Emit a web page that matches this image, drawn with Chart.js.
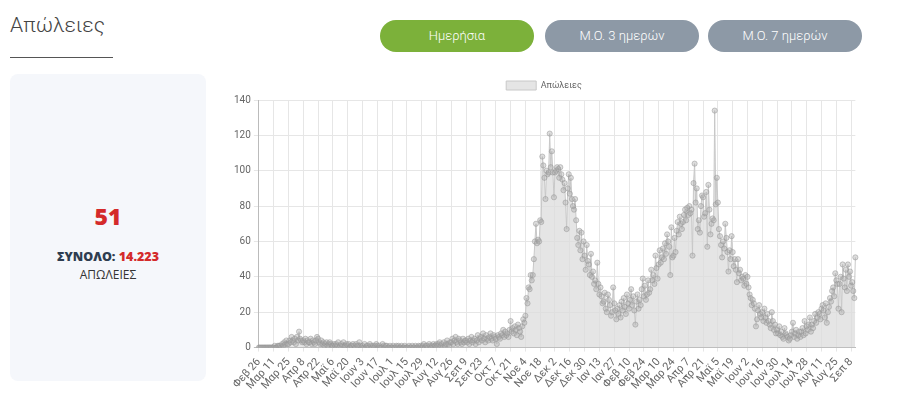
<!DOCTYPE html>
<html lang="el">
<head>
<meta charset="utf-8">
<script src="https://cdn.jsdelivr.net/npm/chart.js@4.4.1/dist/chart.umd.min.js"></script>
<style>
  body { margin: 0; background: #fff; font-family: Roboto, sans-serif; width: 900px; height: 403px; position: relative; overflow: hidden; }
  .titlos { position: absolute; left: 10px; top: 13px; font-size: 21px; font-weight: 300; color: #444; }
  .grammi { position: absolute; left: 10px; top: 57px; width: 103px; height: 1px; background: #555; }
  .koumpi { position: absolute; top: 20px; height: 32px; width: 154px; border-radius: 16px; color: #fff; font-size: 13px; font-weight: 300; text-align: center; line-height: 32px; }
  .karta { position: absolute; left: 10px; top: 74px; width: 196px; height: 307px; background: #f5f7fb; border-radius: 8px; text-align: center; font-family: "Open Sans", sans-serif; }
  .arithmos { position: absolute; left: 0; right: 0; top: 126px; font-size: 23px; font-weight: 800; color: #d42a2a; }
  .synolo { position: absolute; left: 0; right: 0; top: 174px; font-size: 12.5px; font-weight: 800; color: #2e3d50; }
  .synolo span { color: #d42a2a; }
  .etiketa { position: absolute; left: 0; right: 0; top: 192px; font-size: 12px; color: #333; }
  #perioxi { position: absolute; left: 220px; top: 71px; width: 645px; height: 325px; }
</style>
</head>
<body>
<div class="titlos">Απώλειες</div>
<div class="grammi"></div>
<div class="koumpi" style="left:380px; background:#7cb13a;">Ημερήσια</div>
<div class="koumpi" style="left:545px; background:#8d99a6;">Μ.Ο. 3 ημερών</div>
<div class="koumpi" style="left:708px; background:#8d99a6;">Μ.Ο. 7 ημερών</div>

<div class="karta">
  <div class="arithmos">51</div>
  <div class="synolo">ΣΥΝΟΛΟ: <span>14.223</span></div>
  <div class="etiketa">ΑΠΩΛΕΙΕΣ</div>
</div>

<div id="perioxi"><canvas id="grafima"></canvas></div>

<script>
// ημερήσιες απώλειες από 26 Φεβ 2020
const apoleies = [
  0,0,0,0,0,0,0,0,0,0,0,0,0,0,
  0,1,0,0,1,1,1,0,2,1,3,2,4,2,
  2,4,3,6,4,3,5,2,6,4,9,5,4,3,
  4,3,5,2,4,3,3,5,2,4,3,2,4,6,
  5,3,2,4,2,3,1,2,3,1,2,3,2,1,
  1,2,1,2,1,3,0,1,2,1,3,1,1,2,
  1,2,0,1,1,2,1,0,2,1,1,3,1,0,
  1,0,2,0,1,1,0,2,1,0,1,0,1,2,
  1,0,1,0,0,2,1,0,1,1,0,0,1,0,
  0,1,0,0,1,0,1,0,0,1,0,0,1,0,
  0,0,1,0,0,1,0,0,1,0,0,1,0,1,
  0,1,2,0,1,1,0,2,1,0,1,2,1,1,
  2,1,2,3,1,2,0,3,1,2,4,2,1,3,
  3,5,2,4,6,3,2,5,4,3,2,5,3,4,
  4,3,5,2,4,6,3,4,5,2,4,7,3,5,
  6,4,8,5,3,7,5,4,6,8,5,4,7,6,
  5,2,7,6,5,8,7,10,6,9,7,8,6,10,
  15,9,11,8,12,10,7,13,11,9,6,12,16,14,
  18,28,25,34,33,41,38,41,50,60,70,59,61,60,
  72,71,108,103,96,84,100,98,99,121,102,111,99,85,
  99,100,102,101,96,102,98,95,89,93,82,67,90,98,
  87,96,84,80,78,84,72,62,58,66,55,65,50,60,
  52,44,58,49,47,41,53,40,43,36,38,33,48,36,
  30,34,29,25,26,31,22,20,30,27,24,18,20,34,
  25,21,16,22,19,24,17,26,21,28,23,19,30,25,
  22,27,33,24,29,21,13,26,30,22,27,24,33,39,
  29,35,27,30,38,31,33,44,38,41,36,52,45,39,
  47,55,48,51,56,50,59,53,64,60,57,41,68,51,
  52,62,54,66,71,64,74,70,67,71,75,78,72,79,
  75,80,76,78,52,93,104,82,90,67,72,65,80,86,
  85,74,76,88,57,92,78,64,70,73,72,134,81,96,
  82,67,63,58,51,60,56,70,62,54,43,55,50,63,
  54,46,50,44,37,50,42,44,38,40,39,35,41,36,
  40,34,30,28,24,27,25,22,12,16,21,24,19,17,
  20,15,22,17,14,19,15,13,11,20,15,10,13,8,
  10,8,12,7,9,6,5,11,8,7,6,4,5,7,
  9,14,6,8,10,5,7,9,6,9,11,7,15,8,
  12,10,13,17,9,13,11,15,19,14,17,20,19,16,
  22,24,21,17,25,14,20,23,28,26,32,34,29,42,
  38,36,22,36,40,20,47,39,34,44,32,47,40,43,
  35,37,32,28,51
];

const mines = ['Ιαν','Φεβ','Μαρ','Απρ','Μαϊ','Ιουν','Ιουλ','Αυγ','Σεπ','Οκτ','Νοε','Δεκ'];
const enarxi = [2020, 1, 26]; // έτος, μήνας (0-11), ημέρα
const vimaEtiketas = 14; // μία ετικέτα κάθε 2 εβδομάδες

// ετικέτες ημερομηνιών
const imerominies = [];
for (let i = 0; i < apoleies.length; i++) {
  const d = new Date(Date.UTC(enarxi[0], enarxi[1], enarxi[2] + i));
  imerominies.push(mines[d.getUTCMonth()] + ' ' + d.getUTCDate());
}

const ctx = document.getElementById('grafima').getContext('2d');

const dedomena = {
  labels: imerominies,
  datasets: [{
    label: 'Απώλειες',
    data: apoleies,
    fill: 'origin',
    backgroundColor: 'rgba(220,220,220,0.75)',
    borderColor: 'rgba(200,200,200,1)',
    borderWidth: 1,
    tension: 0,
    pointRadius: 2.6,
    pointBorderWidth: 1,
    pointBackgroundColor: 'rgba(170,170,170,0.4)',
    pointBorderColor: 'rgba(150,150,150,0.5)'
  }]
};

const epiloges = {
  responsive: true,
  maintainAspectRatio: false,
  animation: false,
  layout: { padding: { left: 11, right: 8, top: 0, bottom: 0 } },
  plugins: {
    legend: {
      display: true,
      labels: {
        boxWidth: 30,
        boxHeight: 9,
        color: '#666',
        font: { size: 9, family: 'Roboto' }
      }
    },
    tooltip: { enabled: false }
  },
  scales: {
    x: {
      grid: {
        color: '#e6e6e6',
        tickLength: 4
      },
      border: { color: '#bbb' },
      ticks: {
        autoSkip: false,
        minRotation: 48,
        maxRotation: 48,
        color: '#666',
        padding: 4,
        font: { size: 11, family: 'Roboto' },
        callback: function (val, idx) {
          return idx % vimaEtiketas === 0 ? this.getLabelForValue(val) : null;
        }
      }
    },
    y: {
      min: 0,
      max: 140,
      grid: {
        color: function (c) { return c.tick.value === 0 ? '#bdbdbd' : '#e6e6e6'; },
        tickLength: 5
      },
      border: { color: '#bbb' },
      ticks: {
        stepSize: 20,
        color: '#666',
        padding: 3,
        font: { size: 10, family: 'Roboto' }
      }
    }
  }
};

const grafima = new Chart(ctx, {
  type: 'line',
  data: dedomena,
  options: epiloges
});
</script>
</body>
</html>
